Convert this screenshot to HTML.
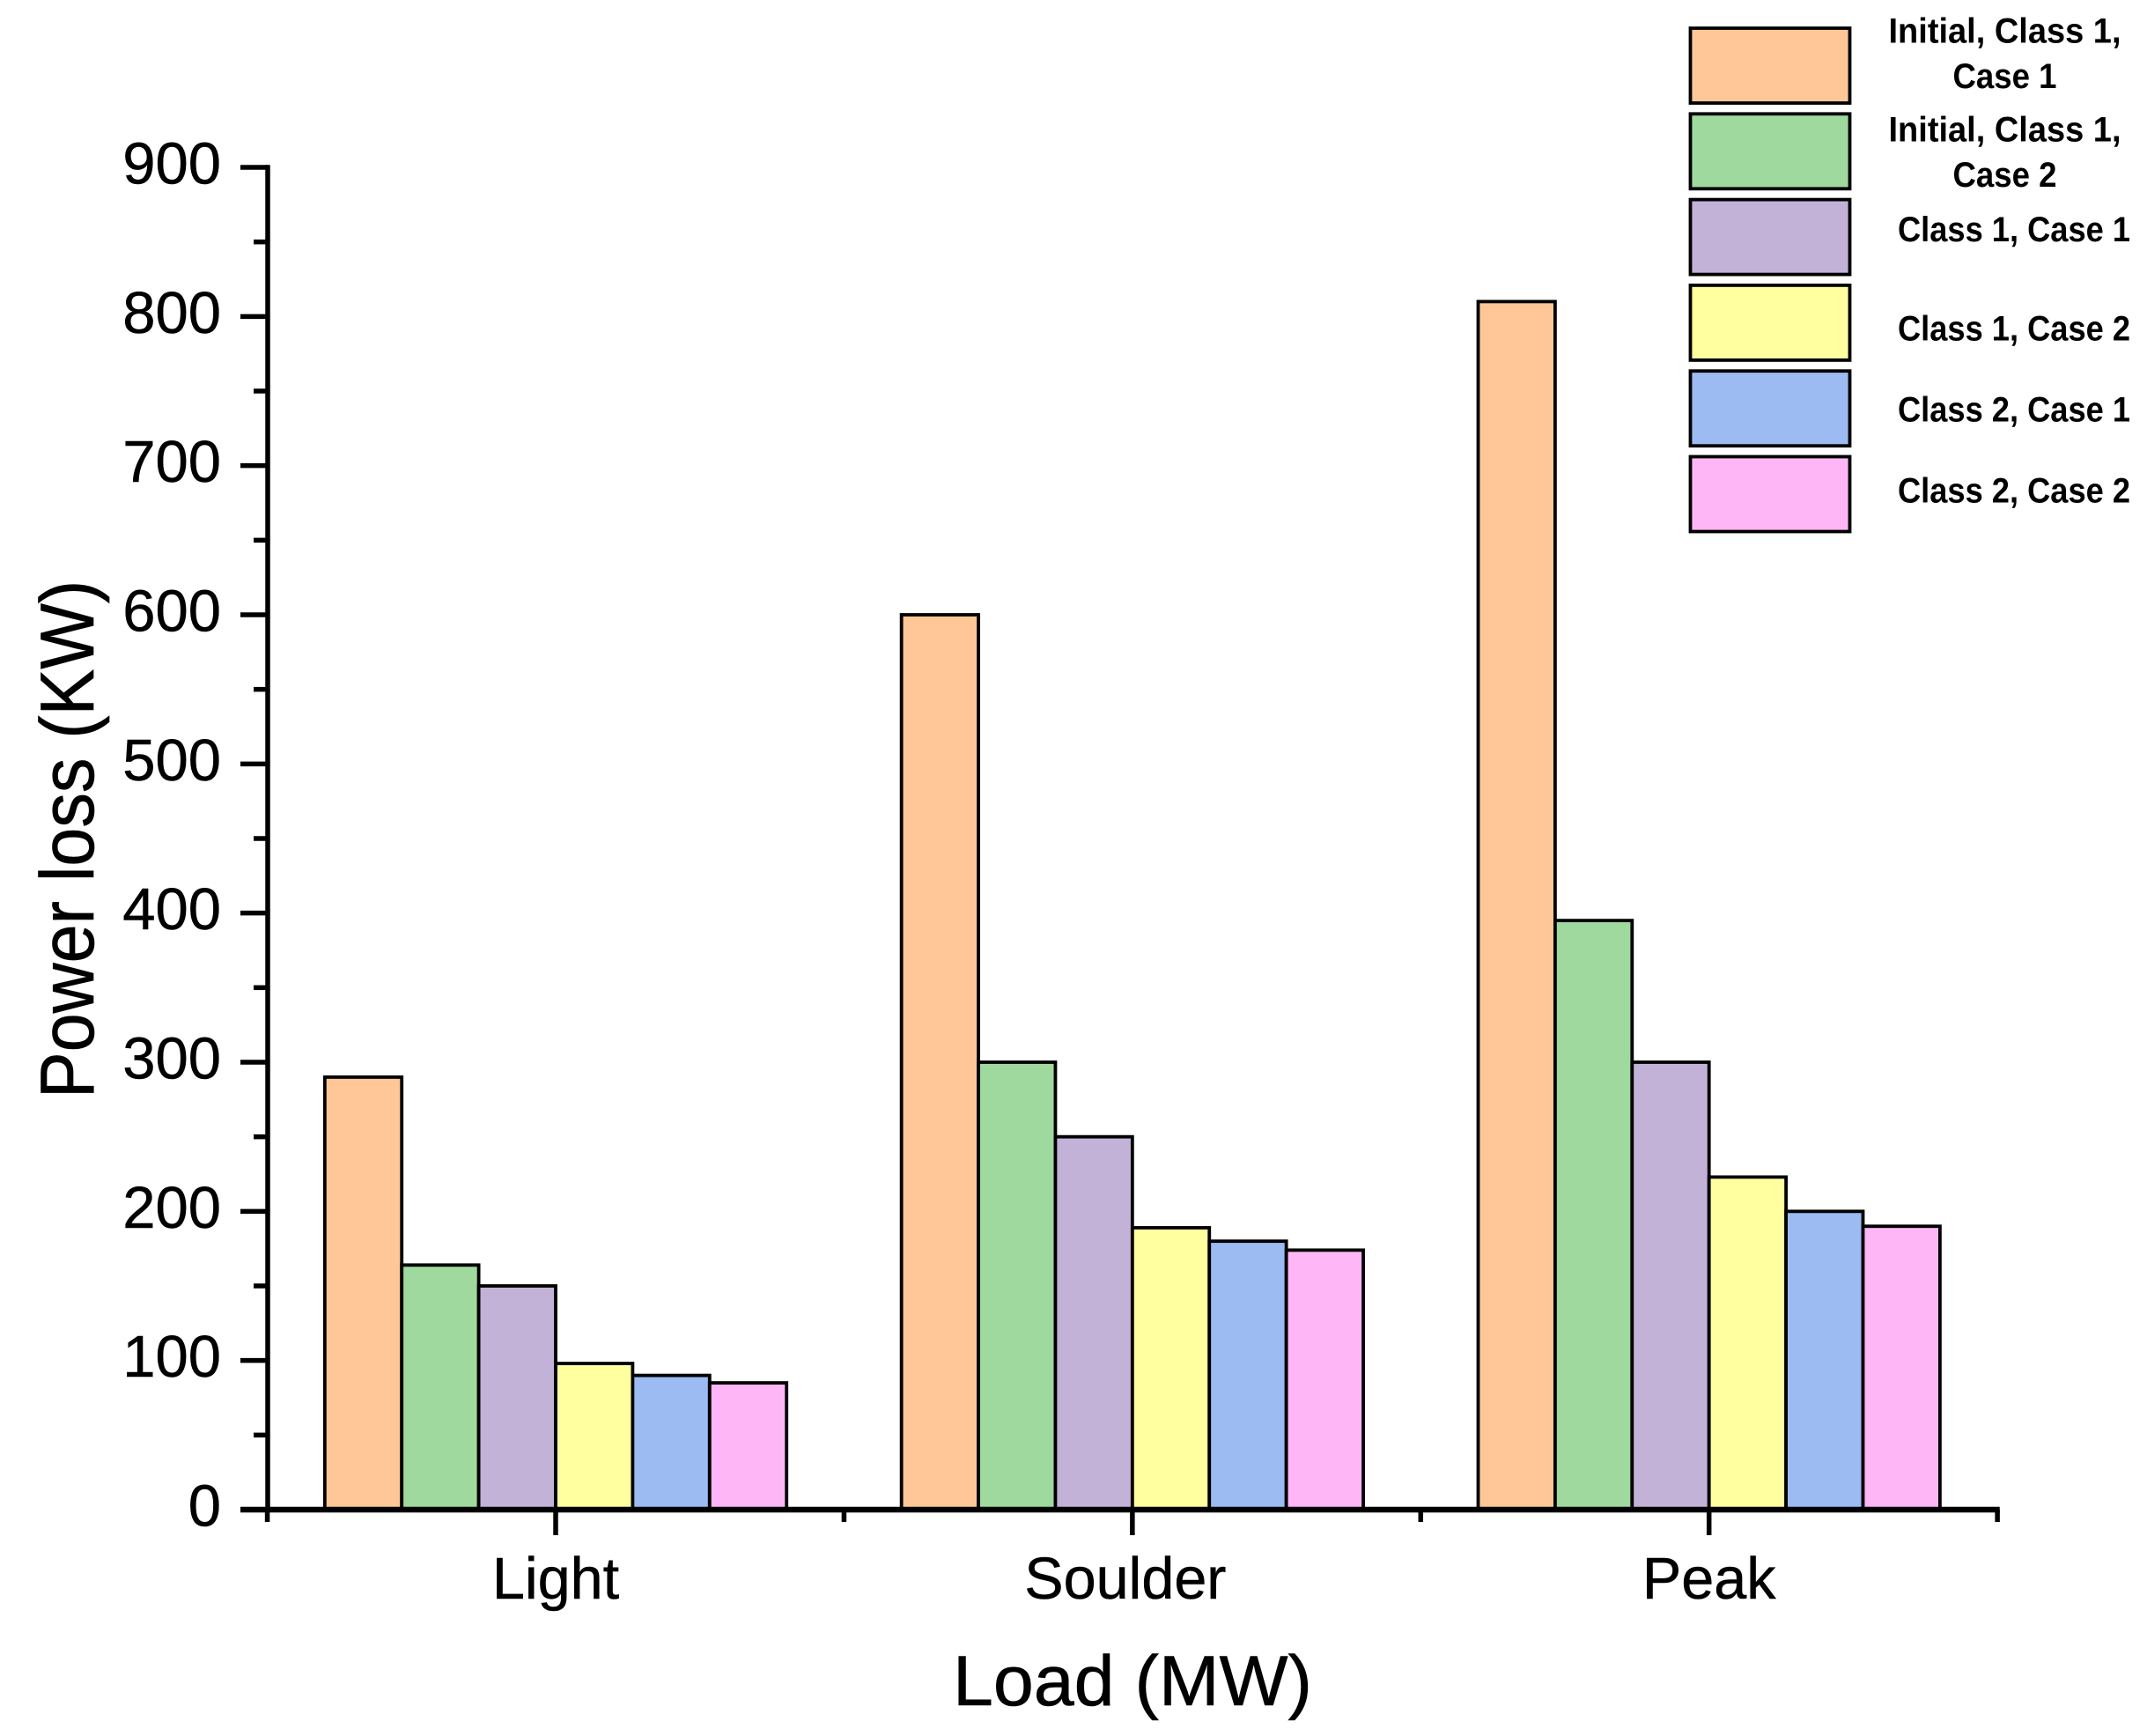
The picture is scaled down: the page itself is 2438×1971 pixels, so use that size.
<!DOCTYPE html>
<html lang="en">
<head>
<meta charset="utf-8">
<title>Power loss by load level</title>
<style>
html,body{margin:0;padding:0;background:#fff;}
svg{display:block;}
text{font-family:"Liberation Sans",Arial,sans-serif;fill:#000;}
.tick-text{font-size:67px;stroke:#000;stroke-width:0.5;}
.cat-text{font-size:66.5px;stroke:#000;stroke-width:0.5;}
.title-text{stroke:#000;stroke-width:0.6;}
.legend-text{font-size:40px;font-weight:bold;}
.s0{fill:#FFC797;}
.s1{fill:#9FD99D;}
.s2{fill:#C2B2D7;}
.s3{fill:#FFFF9F;}
.s4{fill:#9CBBF2;}
.s5{fill:#FFB6F7;}
.bar{stroke:#000;stroke-width:3.8;}
.swatch{stroke:#000;stroke-width:3.8;}
</style>
</head>
<body>
<svg id="chart" xmlns="http://www.w3.org/2000/svg" width="2438" height="1971" viewBox="0 0 2438 1971">
  <rect x="0" y="0" width="2438" height="1971" fill="#fff"/>
  <g id="bars"></g>
  <g id="axes"></g>
  <text class="title-text" x="1082" y="1936" font-size="81" textLength="408" lengthAdjust="spacingAndGlyphs">Load (MW)</text>
  <text class="title-text" font-size="79" transform="translate(106,1247) rotate(-90) scale(1,1.09)">Power loss (KW)</text>
  <g>
    <g>
      <rect class="swatch s0" x="1919.5" y="32" width="181" height="85"/>
      <text class="legend-text" text-anchor="middle" x="2276.5" y="48.5" textLength="264" lengthAdjust="spacingAndGlyphs">Initial, Class 1,</text>
      <text class="legend-text" text-anchor="middle" x="2276.5" y="100" textLength="118" lengthAdjust="spacingAndGlyphs">Case 1</text>
    </g>
    <g>
      <rect class="swatch s1" x="1919.5" y="129.3" width="181" height="85"/>
      <text class="legend-text" text-anchor="middle" x="2276.5" y="160.5" textLength="264" lengthAdjust="spacingAndGlyphs">Initial, Class 1,</text>
      <text class="legend-text" text-anchor="middle" x="2276.5" y="212" textLength="118" lengthAdjust="spacingAndGlyphs">Case 2</text>
    </g>
    <g>
      <rect class="swatch s2" x="1919.5" y="226.6" width="181" height="85"/>
      <text class="legend-text" text-anchor="middle" x="2287" y="274" textLength="264" lengthAdjust="spacingAndGlyphs">Class 1, Case 1</text>
    </g>
    <g>
      <rect class="swatch s3" x="1919.5" y="323.9" width="181" height="85"/>
      <text class="legend-text" text-anchor="middle" x="2287" y="386.5" textLength="264" lengthAdjust="spacingAndGlyphs">Class 1, Case 2</text>
    </g>
    <g>
      <rect class="swatch s4" x="1919.5" y="421.2" width="181" height="85"/>
      <text class="legend-text" text-anchor="middle" x="2287" y="478.5" textLength="264" lengthAdjust="spacingAndGlyphs">Class 2, Case 1</text>
    </g>
    <g>
      <rect class="swatch s5" x="1919.5" y="518.5" width="181" height="85"/>
      <text class="legend-text" text-anchor="middle" x="2287" y="570.5" textLength="264" lengthAdjust="spacingAndGlyphs">Class 2, Case 2</text>
    </g>
  </g>
</svg>
<script>
const categories = ["Light", "Soulder", "Peak"];
const yTickLabels = ["0", "100", "200", "300", "400", "500", "600", "700", "800", "900"];
const initialClass1Case1 = [290, 600, 810];
const initialClass1Case2 = [164, 300, 395];
const class1Case1 = [150, 250, 300];
const class1Case2 = [98, 189, 223];
const class2Case1 = [90, 180, 200];
const class2Case2 = [85, 174, 190];
const seriesList = [initialClass1Case1, initialClass1Case2, class1Case1, class1Case2, class2Case1, class2Case2];
const seriesNames = ["initial-class-1-case-1", "initial-class-1-case-2", "class-1-case-1", "class-1-case-2", "class-2-case-1", "class-2-case-2"];

const SVG_NS = "http://www.w3.org/2000/svg";
const plot = { left: 304, right: 2268, bottom: 1714, top: 190, yMax: 900, firstCenter: 631, bandWidth: 654.85, barWidth: 87.4 };

function yScale(v) {
  return plot.bottom - (v / plot.yMax) * (plot.bottom - plot.top);
}
function xCenter(i) {
  return plot.firstCenter + i * plot.bandWidth;
}
function xBar(i, s) {
  return xCenter(i) + (s - seriesList.length / 2) * plot.barWidth;
}
function make(tag, attrs, parent) {
  const el = document.createElementNS(SVG_NS, tag);
  for (const k in attrs) el.setAttribute(k, attrs[k]);
  parent.appendChild(el);
  return el;
}

const barsGroup = document.getElementById("bars");
seriesList.forEach(function (values, s) {
  values.forEach(function (v, i) {
    const bar = make("rect", {
      class: "bar s" + s,
      x: xBar(i, s),
      y: yScale(v),
      width: plot.barWidth,
      height: yScale(0) - yScale(v)
    }, barsGroup);
    
    
  });
});

const axesGroup = document.getElementById("axes");

const yAxisLine = make("line", { x1: plot.left, x2: plot.left, y1: plot.top - 2.75, y2: plot.bottom + 3, stroke: "#000", "stroke-width": 5.5 }, axesGroup);



const xAxisLine = make("line", { x1: plot.left - 31, x2: plot.right + 2.75, y1: plot.bottom, y2: plot.bottom, stroke: "#000", "stroke-width": 6.5 }, axesGroup);



yTickLabels.forEach(function (label, i) {
  const value = Number(label);
  const y = yScale(value);
  const tick = make("line", { x1: plot.left - 31, x2: plot.left, y1: y, y2: y, stroke: "#000", "stroke-width": 5.5 }, axesGroup);
  
  
  const text = make("text", { class: "tick-text", "text-anchor": "end", x: 251, y: y + 18.5 }, axesGroup);
  text.textContent = label;
  
  
  if (i < yTickLabels.length - 1) {
    const yMinor = yScale(value + plot.yMax / (yTickLabels.length - 1) / 2);
    const minor = make("line", { x1: plot.left - 16, x2: plot.left, y1: yMinor, y2: yMinor, stroke: "#000", "stroke-width": 5.5 }, axesGroup);
    
    
  }
});

categories.forEach(function (name, i) {
  const x = xCenter(i);
  const tick = make("line", { x1: x, x2: x, y1: plot.bottom, y2: 1743, stroke: "#000", "stroke-width": 5.5 }, axesGroup);
  
  
  const text = make("text", { class: "cat-text", "text-anchor": "middle", x: name === "Soulder" ? x - 8 : x, y: 1815 }, axesGroup);
  text.textContent = name;
  
  
});

for (let i = 0; i <= categories.length; i++) {
  const x = xCenter(i) - plot.bandWidth / 2;
  const minor = make("line", { x1: x, x2: x, y1: plot.bottom, y2: 1728, stroke: "#000", "stroke-width": 5.5 }, axesGroup);
  
  
}
</script>
</body>
</html>
